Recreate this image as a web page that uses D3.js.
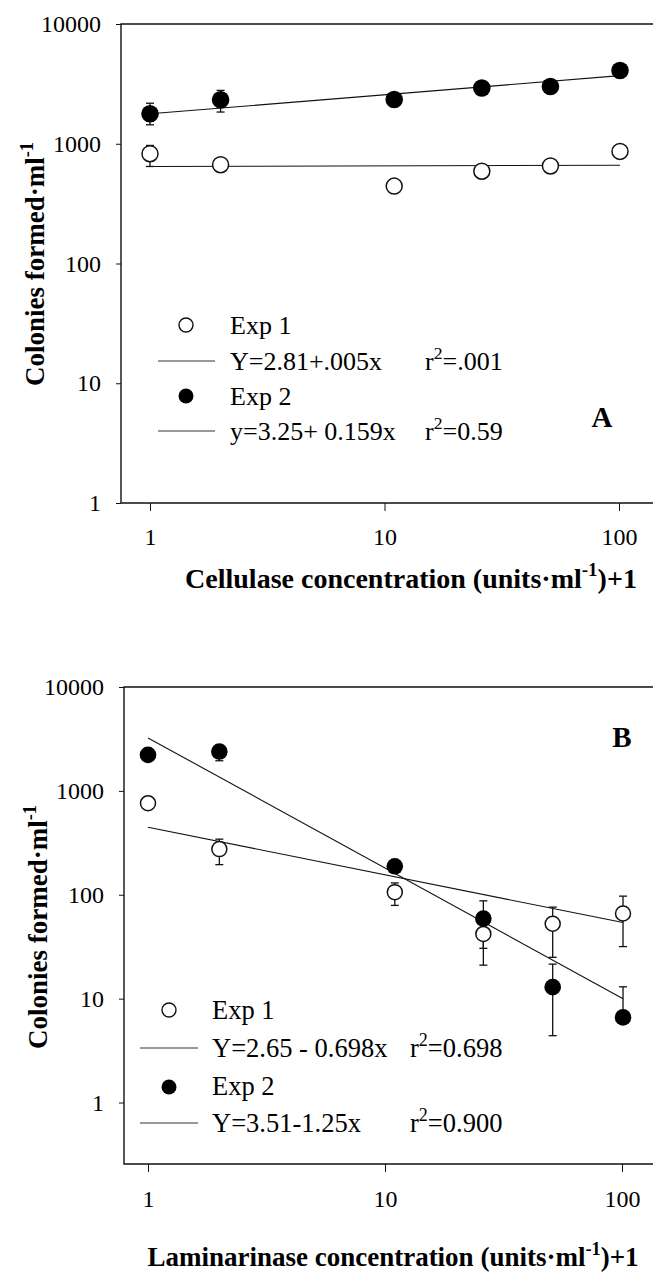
<!DOCTYPE html>
<html><head><meta charset="utf-8">
<script src="https://cdn.jsdelivr.net/npm/d3@7"></script>
<style>
body{margin:0;background:#fff}
svg{display:block}
text{font-family:"Liberation Serif","Times New Roman",Times,serif;fill:#000}
</style>
</head><body><svg id="c" width="653" height="1274"></svg>
<script>
// ---------- data ----------
const concentrations = [1, 2, 11, 26, 51, 101];
const yTickValues = [1, 10, 100, 1000, 10000];
const xTickValues = [1, 10, 100];
const fitEnds = [1, 101];

// Panel A: cellulase
const cellExp1 = [826, 668, 443, 590, 652, 863];
const cellExp1Err = [[646, 968], null, null, null, null, null];
const cellExp2 = [1780, 2330, 2340, 2920, 3010, 4090];
const cellExp2Err = [[1440, 2180], [1840, 2790], null, null, null, null];
const cellFit1 = [646, 661];
const cellFit2 = [1778, 3704];
const cellLegend = ["Exp 1", "Y=2.81+.005x", ".001", "Exp 2", "y=3.25+ 0.159x", "0.59"];

// Panel B: laminarinase
const lamExp1 = [761, 275, 106, 42, 52.6, 66];
const lamExp1Err = [null, [195, 343], [79, 130], [21, 55], [25, 76], [31.7, 97]];
const lamExp2 = [2220, 2390, 188, 59, 12.9, 6.6];
const lamExp2Err = [null, [1950, 2750], null, [30.5, 87.4], [4.4, 21.5], [6, 13]];
const lamFit1 = [447, 54];
const lamFit2 = [3236, 10];
const lamLegend = ["Exp 1", "Y=2.65 - 0.698x", "0.698", "Exp 2", "Y=3.51-1.25x", "0.900"];

// ---------- layout ----------
const panels = [
  {
    e1: cellExp1, e1Err: cellExp1Err, e2: cellExp2, e2Err: cellExp2Err,
    f1: cellFit1, f2: cellFit2, legend: cellLegend,
    left: 121, top: 24, bottom: 503, x1: 150, x100: 619, yMin: 1,
    r: 8, xTickPad: 17, titleSize: 28,
    yTitle: {x: 44, y: 264}, xTitle: {x: 411, y: 588, txt: "Cellulase concentration (units·ml", after: ")+1"},
    letter: {t: "A", x: 602, y: 427},
    lg: {cx: 186, lx0: 158, lx1: 215, tx: 230, rx: 425, fs: 26,
         c1: 325, t1: 334, l1: 361, s1: 370, c2: 396, t2: 405, l2: 431, s2: 440}
  },
  {
    e1: lamExp1, e1Err: lamExp1Err, e2: lamExp2, e2Err: lamExp2Err,
    f1: lamFit1, f2: lamFit2, legend: lamLegend,
    left: 124, top: 687, bottom: 1164, x1: 148, x100: 622, yMin: 0.256,
    r: 7.5, xTickPad: 18, titleSize: 27,
    yTitle: {x: 47, y: 927}, xTitle: {x: 393, y: 1266, txt: "Laminarinase concentration (units·ml", after: ")+1"},
    letter: {t: "B", x: 622, y: 747},
    lg: {cx: 169, lx0: 140, lx1: 198, tx: 212, rx: 410, fs: 26.5,
         c1: 1010, t1: 1019, l1: 1048, s1: 1057, c2: 1087, t2: 1095, l2: 1123, s2: 1132}
  }
];

const svg = d3.select("#c");

function sup(textSel, base, supTxt, after, size) {
  textSel.append("tspan").text(base);
  textSel.append("tspan").attr("dy", -size * 0.42).attr("font-size", size * 0.68).text(supTxt);
  if (after) textSel.append("tspan").attr("dy", size * 0.42).text(after);
}

panels.forEach(p => {
  const g = svg.append("g");
  const x = d3.scaleLog().domain([1, 100]).range([p.x1, p.x100]);
  const y = d3.scaleLog().domain([p.yMin, 10000]).range([p.bottom, p.top]);

  // frame (top, left, bottom) running off the right edge
  g.append("path")
    .attr("d", `M653,${p.top}H${p.left}V${p.bottom}H653`)
    .attr("fill", "none").attr("stroke", "#111").attr("stroke-width", 1.4);

  // y axis
  const ya = g.append("g").attr("transform", `translate(${p.left},0)`)
    .call(d3.axisLeft(y).tickValues(yTickValues).tickSize(5).tickPadding(15).tickFormat(d3.format("d")));
  ya.select(".domain").remove();
  ya.selectAll("line").attr("stroke", "#111");
  ya.selectAll("text").attr("font-size", 24);

  // x axis
  const xa = g.append("g").attr("transform", `translate(0,${p.bottom})`)
    .call(d3.axisBottom(x).tickValues(xTickValues).tickSize(8).tickPadding(p.xTickPad).tickFormat(d3.format("d")));
  xa.select(".domain").remove();
  xa.selectAll("line").attr("stroke", "#111");
  xa.selectAll("text").attr("font-size", 24);

  // regression lines
  [p.f1, p.f2].forEach(f => {
    g.append("line")
      .attr("x1", x(fitEnds[0])).attr("y1", y(f[0]))
      .attr("x2", x(fitEnds[1])).attr("y2", y(f[1]))
      .attr("stroke", "#111").attr("stroke-width", 1.1);
  });

  // error bars
  const drawErr = errs => {
    errs.forEach((e, i) => {
      if (!e) return;
      const cx = x(concentrations[i]);
      const eg = g.append("g").attr("stroke", "#111").attr("stroke-width", 1.3);
      eg.append("line").attr("x1", cx).attr("x2", cx).attr("y1", y(e[0])).attr("y2", y(e[1]));
      eg.append("line").attr("x1", cx - 4).attr("x2", cx + 4).attr("y1", y(e[0])).attr("y2", y(e[0]));
      eg.append("line").attr("x1", cx - 4).attr("x2", cx + 4).attr("y1", y(e[1])).attr("y2", y(e[1]));
    });
  };
  drawErr(p.e1Err);
  drawErr(p.e2Err);

  // points
  g.selectAll(null).data(p.e1).enter().append("circle")
    .attr("cx", (d, i) => x(concentrations[i])).attr("cy", d => y(d)).attr("r", p.r)
    .attr("fill", "#fff").attr("stroke", "#111").attr("stroke-width", 1.5);
  g.selectAll(null).data(p.e2).enter().append("circle")
    .attr("cx", (d, i) => x(concentrations[i])).attr("cy", d => y(d)).attr("r", p.r + 0.8)
    .attr("fill", "#000");

  // legend
  const L = p.lg, fs = L.fs;
  g.append("circle").attr("cx", L.cx).attr("cy", L.c1).attr("r", 7)
    .attr("fill", "#fff").attr("stroke", "#111").attr("stroke-width", 1.4);
  g.append("text").attr("x", L.tx).attr("y", L.t1).attr("font-size", fs).text(p.legend[0]);
  g.append("line").attr("x1", L.lx0).attr("x2", L.lx1).attr("y1", L.l1).attr("y2", L.l1)
    .attr("stroke", "#333").attr("stroke-width", 1);
  g.append("text").attr("x", L.tx).attr("y", L.s1).attr("font-size", fs).text(p.legend[1]);
  sup(g.append("text").attr("x", L.rx).attr("y", L.s1).attr("font-size", fs), "r", "2", "=" + p.legend[2], fs);

  g.append("circle").attr("cx", L.cx).attr("cy", L.c2).attr("r", 7.5).attr("fill", "#000");
  g.append("text").attr("x", L.tx).attr("y", L.t2).attr("font-size", fs).text(p.legend[3]);
  g.append("line").attr("x1", L.lx0).attr("x2", L.lx1).attr("y1", L.l2).attr("y2", L.l2)
    .attr("stroke", "#333").attr("stroke-width", 1);
  g.append("text").attr("x", L.tx).attr("y", L.s2).attr("font-size", fs).text(p.legend[4]);
  sup(g.append("text").attr("x", L.rx).attr("y", L.s2).attr("font-size", fs), "r", "2", "=" + p.legend[5], fs);

  // panel letter
  g.append("text").attr("x", p.letter.x).attr("y", p.letter.y).attr("text-anchor", "middle")
    .attr("font-size", 29).attr("font-weight", "bold").text(p.letter.t);

  // y title
  const yt = g.append("text")
    .attr("transform", `translate(${p.yTitle.x},${p.yTitle.y}) rotate(-90)`)
    .attr("text-anchor", "middle").attr("font-size", 27).attr("font-weight", "bold");
  sup(yt, "Colonies formed·ml", "-1", null, 27);

  // x title
  const xt = g.append("text").attr("x", p.xTitle.x).attr("y", p.xTitle.y)
    .attr("text-anchor", "middle").attr("font-size", p.titleSize).attr("font-weight", "bold");
  sup(xt, p.xTitle.txt, "-1", p.xTitle.after, p.titleSize);
});
</script>
</body></html>
